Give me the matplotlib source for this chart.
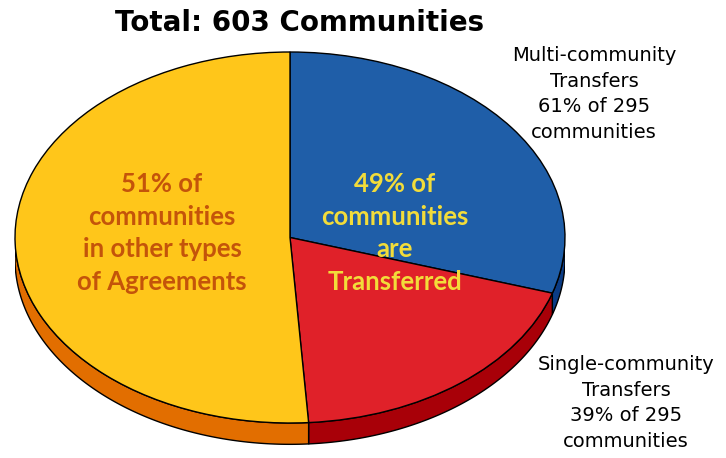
import numpy as np
import matplotlib
matplotlib.use("Agg")
import matplotlib.pyplot as plt
from matplotlib.patches import Polygon

# ---- data ----
categories = ["Multi-community Transfers", "Single-community Transfers", "Other types of Agreements"]
counts = [180, 115, 308]          # 61% and 39% of 295, remaining of 603
top_colors = ["#1F5EA8", "#E02129", "#FFC61A"]
side_colors = ["#0B3C85", "#A80008", "#E26E00"]
title = "Total: 603 Communities"
inner_left = "51% of\ncommunities\nin other types\nof Agreements"
inner_right = "49% of\ncommunities\nare\nTransferred"
label_multi = "Multi-community\nTransfers\n61% of 295\ncommunities"
label_single = "Single-community\nTransfers\n39% of 295\ncommunities"

W, H = 726, 458
fig = plt.figure(figsize=(W / 100, H / 100), dpi=100)
fig.patch.set_facecolor("white")

cx, cy = 290, 458 - 237.5
rx, ry = 275, 185.5
ylo, yhi = -1.18, 1.02
ax = fig.add_axes([(cx - rx) / W, (cy + ylo * ry) / H, 2 * rx / W, (yhi - ylo) * ry / H])

depth = 0.115

wedges, _ = ax.pie(counts, colors=top_colors, startangle=90, counterclock=False,
                   radius=1, wedgeprops=dict(edgecolor="black", linewidth=1.0))
for w in wedges:
    w.set_zorder(3)

# 3D side walls from the wedge angles
for w, sc in zip(wedges, side_colors):
    t1, t2 = w.theta1, w.theta2
    for k in range(-2, 2):
        a = max(t1, 180 + 360 * k)
        b = min(t2, 360 + 360 * k)
        if b > a:
            th = np.radians(np.linspace(a, b, 200))
            xs = np.cos(th)
            ys = np.sin(th)
            pts = np.concatenate([np.column_stack([xs, ys]),
                                  np.column_stack([xs[::-1], ys[::-1] - depth])])
            ax.add_patch(Polygon(pts, closed=True, facecolor=sc, edgecolor="black",
                                 linewidth=1.0, zorder=2))

ax.set_aspect("auto")
ax.set_xlim(-1, 1)
ax.set_ylim(ylo, yhi)
ax.axis("off")

font = ["Lato", "DejaVu Sans"]
font2 = ["DejaVu Sans"]
fig.text(300 / W, 1 - 23 / H, title, ha="center", va="center", fontsize=20,
         fontweight="bold", family=font2, color="black")
fig.text(162 / W, 1 - 233 / H, inner_left, ha="center", va="center", fontsize=18.5,
         fontweight="bold", family=font, color="#C4540A", linespacing=1.42)
fig.text(395 / W, 1 - 233 / H, inner_right, ha="center", va="center", fontsize=18.5,
         fontweight="bold", family=font, color="#F2DC3A", linespacing=1.42)
fig.text(594 / W, 1 - 94 / H, label_multi, ha="center", va="center", fontsize=14,
         family=font2, color="black", linespacing=1.43)
fig.text(626 / W, 1 - 403 / H, label_single, ha="center", va="center", fontsize=14,
         family=font2, color="black", linespacing=1.43)

fig.savefig("out.png", dpi=100, facecolor="white")
